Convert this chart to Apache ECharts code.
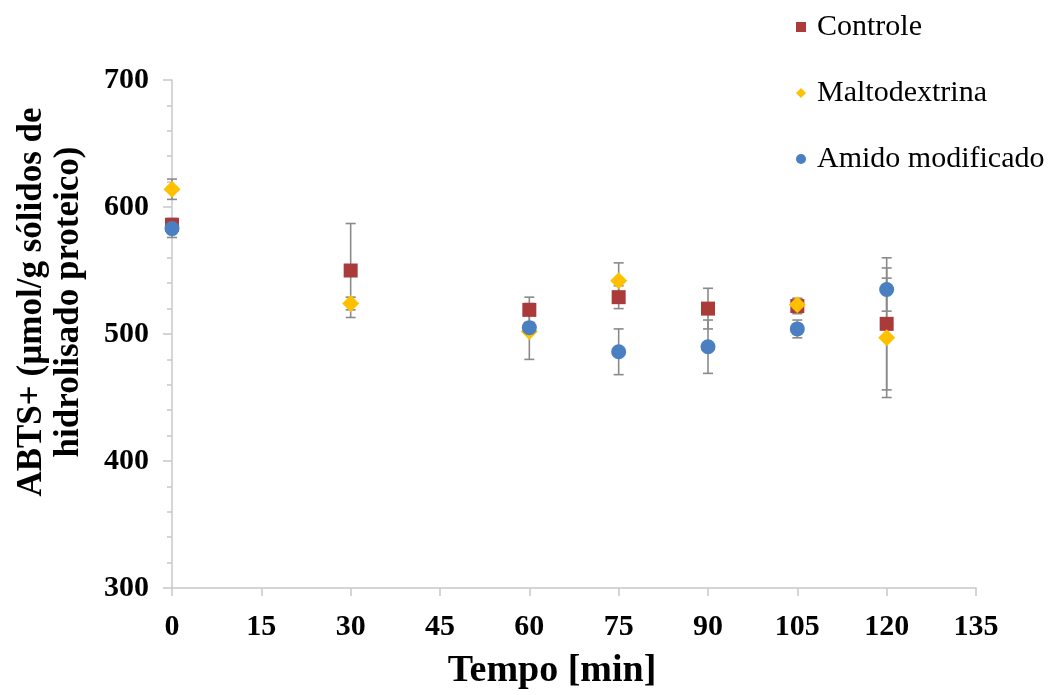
<!DOCTYPE html>
<html>
<head>
<meta charset="utf-8">
<script src="https://cdn.jsdelivr.net/npm/echarts@6/dist/echarts.min.js"></script>
<style>
  html, body { margin: 0; padding: 0; background: #ffffff; }
  #chart { width: 1057px; height: 695px; }
</style>
</head>
<body>
<div id="chart"></div>
<script>
// Sampling times (min)
const times = [0, 30, 60, 75, 90, 105, 120];

// ABTS+ values (µmol/g sólidos de hidrolisado proteico) and their errors
const controle = [586, 550, 519, 529, 520, 522, 508];
const controleErr = [5, 37, 10, 9, 16, 6, 52];

const maltodextrina = [614, 524, 502, 542, null, 523, 497];
const maltodextrinaErr = [8, 5, 22, 14, null, 5, 47];

const amido = [583, null, 505, 486, 490, 504, 535];
const amidoErr = [7, null, 4, 18, 21, 7, 17];

const seriesNames = ['Controle', 'Maltodextrina', 'Amido modificado'];
const seriesColors = ['#ab3a3a', '#ffc000', '#4a7fc1'];
const seriesSymbols = ['rect', 'diamond', 'circle'];
const seriesSizes = [14, 17, 15];

const xTicks = { min: 0, max: 135, interval: 15 };
const yTicks = { min: 300, max: 700, interval: 100 };

const FONT = '"Liberation Serif", "Times New Roman", serif';

function points(values) {
  return times.map((t, i) => values[i] == null ? null : [t, values[i]]).filter(p => p);
}
function errorRows(values, errs) {
  return times.map((t, i) => values[i] == null ? null : [t, values[i] - errs[i], values[i] + errs[i]]).filter(p => p);
}

// Vertical error bar with caps
function renderError(params, api) {
  const x = api.value(0);
  const lo = api.coord([x, api.value(1)]);
  const hi = api.coord([x, api.value(2)]);
  const half = 5;
  const style = { stroke: '#8a8a8a', lineWidth: 1.6 };
  return {
    type: 'group',
    children: [
      { type: 'line', shape: { x1: lo[0], y1: lo[1], x2: hi[0], y2: hi[1] }, style },
      { type: 'line', shape: { x1: hi[0] - half, y1: hi[1], x2: hi[0] + half, y2: hi[1] }, style },
      { type: 'line', shape: { x1: lo[0] - half, y1: lo[1], x2: lo[0] + half, y2: lo[1] }, style }
    ]
  };
}

const valueSets = [controle, maltodextrina, amido];
const errSets = [controleErr, maltodextrinaErr, amidoErr];

const series = [];
valueSets.forEach((vals, k) => {
  series.push({
    type: 'custom',
    renderItem: renderError,
    data: errorRows(vals, errSets[k]),
    encode: { x: 0, y: [1, 2] },
    z: 1,
    silent: true
  });
});
valueSets.forEach((vals, k) => {
  series.push({
    name: seriesNames[k],
    type: 'scatter',
    data: points(vals),
    symbol: seriesSymbols[k],
    symbolSize: seriesSizes[k],
    itemStyle: { color: seriesColors[k], opacity: 1 },
    z: 2 + k
  });
});

const axisColor = '#c8c8c8';

const chart = echarts.init(document.getElementById('chart'));
chart.setOption({
  animation: false,
  backgroundColor: '#ffffff',
  grid: { left: 172, right: 81, top: 80, bottom: 107 },
  legend: {
    data: seriesNames.map((n, k) => ({ name: n, icon: seriesSymbols[k] })),
    orient: 'vertical',
    left: 791,
    top: 4,
    itemWidth: 10,
    itemHeight: 10,
    itemGap: 30,
    textStyle: {
      fontFamily: FONT,
      fontSize: 30,
      color: '#000000',
      lineHeight: 36,
      padding: [0, 0, 0, 6]
    }
  },
  xAxis: {
    type: 'value',
    min: xTicks.min,
    max: xTicks.max,
    interval: xTicks.interval,
    name: 'Tempo [min]',
    nameLocation: 'middle',
    nameGap: 64,
    nameTextStyle: {
      fontFamily: FONT,
      fontSize: 38,
      fontWeight: 'bold',
      color: '#000000',
      padding: [0, 44, 0, 0]
    },
    axisLine: { show: true, lineStyle: { color: axisColor, width: 1.5 } },
    axisTick: { show: true, inside: false, length: 8, lineStyle: { color: axisColor, width: 1.5 } },
    splitLine: { show: false },
    axisLabel: {
      fontFamily: FONT,
      fontSize: 30,
      fontWeight: 'bold',
      color: '#000000',
      margin: 24
    }
  },
  yAxis: {
    type: 'value',
    min: yTicks.min,
    max: yTicks.max,
    interval: yTicks.interval,
    name: 'ABTS+ (µmol/g sólidos de\nhidrolisado proteico)',
    nameLocation: 'middle',
    nameRotate: 90,
    nameGap: 85,
    nameTextStyle: {
      fontFamily: FONT,
      fontSize: 35,
      fontWeight: 'bold',
      color: '#000000',
      lineHeight: 37,
      padding: [0, 0, 0, 64]
    },
    axisLine: { show: true, lineStyle: { color: axisColor, width: 1.5 } },
    axisTick: { show: true, inside: false, length: 9, lineStyle: { color: axisColor, width: 1.5 } },
    minorTick: { show: true, splitNumber: 5, length: 5, lineStyle: { color: axisColor, width: 1.5 } },
    splitLine: { show: false },
    axisLabel: {
      fontFamily: FONT,
      fontSize: 30,
      fontWeight: 'bold',
      color: '#000000',
      margin: 23
    }
  },
  series
});
</script>
</body>
</html>
